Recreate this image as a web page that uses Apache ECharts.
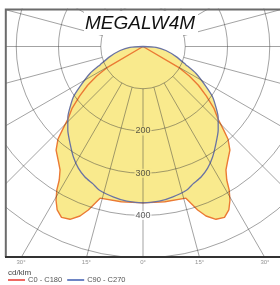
<!DOCTYPE html>
<html>
<head>
<meta charset="utf-8">
<script src="https://cdn.jsdelivr.net/npm/echarts@6/dist/echarts.min.js"></script>
<style>
  html, body { margin: 0; padding: 0; background: #fff; }
  #chart { width: 280px; height: 285px; }
</style>
</head>
<body>
<div id="chart"></div>
<script>
// angles measured from nadir (deg), intensity in cd/klm, one half (curves are symmetric)
var c0Angles = [0, 8, 15.8, 17, 18.5, 20.4, 22.9, 25.5, 27.7, 29.5, 31, 32.1, 33.9, 36.3, 40, 42.5, 44, 46, 49, 52, 55, 57.5, 59.5, 90];
var c0Values = [370, 371, 373, 388, 408, 428, 444, 448, 437, 418, 396, 373, 352, 338, 320, 298, 275, 247, 222, 190, 160, 130, 100, 0];

var c90Angles = [0, 6, 11, 17, 20, 24, 28, 32, 37, 42, 47, 50, 54, 57.5, 63, 67, 73, 80, 86.5, 90];
var c90Values = [370, 368, 363, 355, 346, 338, 326, 310, 287, 266, 243, 226, 204, 177, 141, 110, 82, 55, 31, 0];

var ringLabels = [200, 300, 400];
var angleTickValues = [30, 15, 0, -15, -30];
var angleTickLabels = ['30°', '15°', '0°', '15°', '30°'];

var cx = 143, cy = 46.5;
var pxPer100 = 42.25;
var rMax = 600;

function buildCurve(angles, values) {
    var pts = [];
    for (var i = angles.length - 1; i >= 1; i--) pts.push([values[i], -angles[i]]);
    for (var j = 0; j < angles.length; j++) pts.push([values[j], angles[j]]);
    return pts;
}

var c0Data = buildCurve(c0Angles, c0Values);
var c90Data = buildCurve(c90Angles, c90Values);

var yellow = '#f9ea8d';
var gridColor = 'rgba(60,60,60,0.47)';

var ringData = ringLabels.map(function (v) {
    return {
        value: [v, 0],
        label: { backgroundColor: v < 370 ? yellow : '#fff' }
    };
});
// frame bottom sits on the 500 ring along the nadir
var tickData = angleTickValues.map(function (a, i) {
    return { value: [500 / Math.cos(a * Math.PI / 180), a], name: angleTickLabels[i] };
});

var myChart = echarts.init(document.getElementById('chart'));

var option = {
    animation: false,
    polar: [
        { center: [cx, cy], radius: pxPer100 * rMax / 100 },
        { center: [cx, cy], radius: [pxPer100, pxPer100 * rMax / 100] }
    ],
    angleAxis: [
        { polarIndex: 0, type: 'value', min: -180, max: 180, startAngle: 90, clockwise: true, show: false },
        {
            polarIndex: 1, type: 'value', min: -180, max: 180, interval: 15, startAngle: 90, z: 5,
            axisLine: { show: false }, axisTick: { show: false }, axisLabel: { show: false },
            splitLine: { show: true, lineStyle: { color: gridColor, width: 1 } }
        }
    ],
    radiusAxis: [
        { polarIndex: 0, type: 'value', min: 0, max: rMax, show: false },
        {
            polarIndex: 1, type: 'value', min: 100, max: rMax, interval: 100, z: 5,
            axisLine: { show: false }, axisTick: { show: false }, axisLabel: { show: false },
            splitLine: { show: true, lineStyle: { color: gridColor, width: 1 } }
        }
    ],
    legend: {
        left: 8, top: 276, z: 80, padding: 0,
        icon: 'rect', itemWidth: 17, itemHeight: 1.5, itemGap: 5,
        textStyle: { fontSize: 7.5, color: '#555', fontFamily: 'Liberation Sans', padding: [0, 0, 0, -2] },
        data: [
            { name: 'C0 - C180', itemStyle: { color: '#e8372f' } },
            { name: 'C90 - C270', itemStyle: { color: '#3e5db0' } }
        ]
    },
    series: [
        {
            name: 'fill0', type: 'line', coordinateSystem: 'polar', polarIndex: 0, z: 1,
            data: c0Data, showSymbol: false, silent: true,
            lineStyle: { width: 0 }, areaStyle: { color: yellow, opacity: 1 }
        },
        {
            name: 'fill90', type: 'line', coordinateSystem: 'polar', polarIndex: 0, z: 1,
            data: c90Data, showSymbol: false, silent: true, smooth: 0.2,
            lineStyle: { width: 0 }, areaStyle: { color: yellow, opacity: 1 }
        },
        {
            name: 'C0 - C180', type: 'line', coordinateSystem: 'polar', polarIndex: 0, z: 3,
            data: c0Data, showSymbol: false,
            lineStyle: { color: '#eb7a34', width: 1.4 }
        },
        {
            name: 'C90 - C270', type: 'line', coordinateSystem: 'polar', polarIndex: 0, z: 3,
            data: c90Data, showSymbol: false, smooth: 0.2,
            lineStyle: { color: '#6a73a3', width: 1.3 }
        },
        {
            name: 'rings', type: 'scatter', coordinateSystem: 'polar', polarIndex: 0, z: 10,
            data: ringData, symbolSize: 1, itemStyle: { color: 'rgba(0,0,0,0)' }, silent: true,
            label: {
                show: true, position: 'inside', fontSize: 9, color: '#333', fontFamily: 'Liberation Sans',
                padding: [0, 1], formatter: function (p) { return p.value[0]; }
            }
        },
        {
            name: 'ticks', type: 'scatter', coordinateSystem: 'polar', polarIndex: 0, z: 60,
            data: tickData, symbolSize: 1, itemStyle: { color: 'rgba(0,0,0,0)' }, silent: true,
            label: {
                show: true, position: 'bottom', distance: 1, fontSize: 6, color: '#777', fontFamily: 'Liberation Sans',
                formatter: function (p) { return p.name; }
            }
        }
    ],
    graphic: [
        { type: 'rect', z: 50, silent: true, shape: { x: 0, y: 0, width: 5, height: 285 }, style: { fill: '#fff' } },
        { type: 'rect', z: 50, silent: true, shape: { x: 0, y: 0, width: 280, height: 8.5 }, style: { fill: '#fff' } },
        { type: 'rect', z: 50, silent: true, shape: { x: 0, y: 257.5, width: 280, height: 28 }, style: { fill: '#fff' } },
        { type: 'polyline', z: 55, silent: true, shape: { points: [[5.8, 257], [5.8, 9.5], [280, 9.5]] }, style: { stroke: '#6b6b6b', lineWidth: 2, fill: null } },
        { type: 'line', z: 55, silent: true, shape: { x1: 5, y1: 257, x2: 280, y2: 257 }, style: { stroke: '#333', lineWidth: 2 } },
        { type: 'rect', z: 56, silent: true, shape: { x: 84, y: 11, width: 114, height: 24 }, style: { fill: '#fff' } },
        {
            type: 'text', z: 57, silent: true, x: 140, y: 24,
            style: { text: 'MEGALW4M', fill: '#111', font: 'italic 19px "Liberation Sans"', textAlign: 'center', textVerticalAlign: 'middle' }
        },
        {
            type: 'text', z: 57, silent: true, x: 8, y: 273,
            style: { text: 'cd/klm', fill: '#444', font: '8px "Liberation Sans"', textAlign: 'left', textVerticalAlign: 'middle' }
        }
    ]
};

myChart.setOption(option);
</script>
</body>
</html>
